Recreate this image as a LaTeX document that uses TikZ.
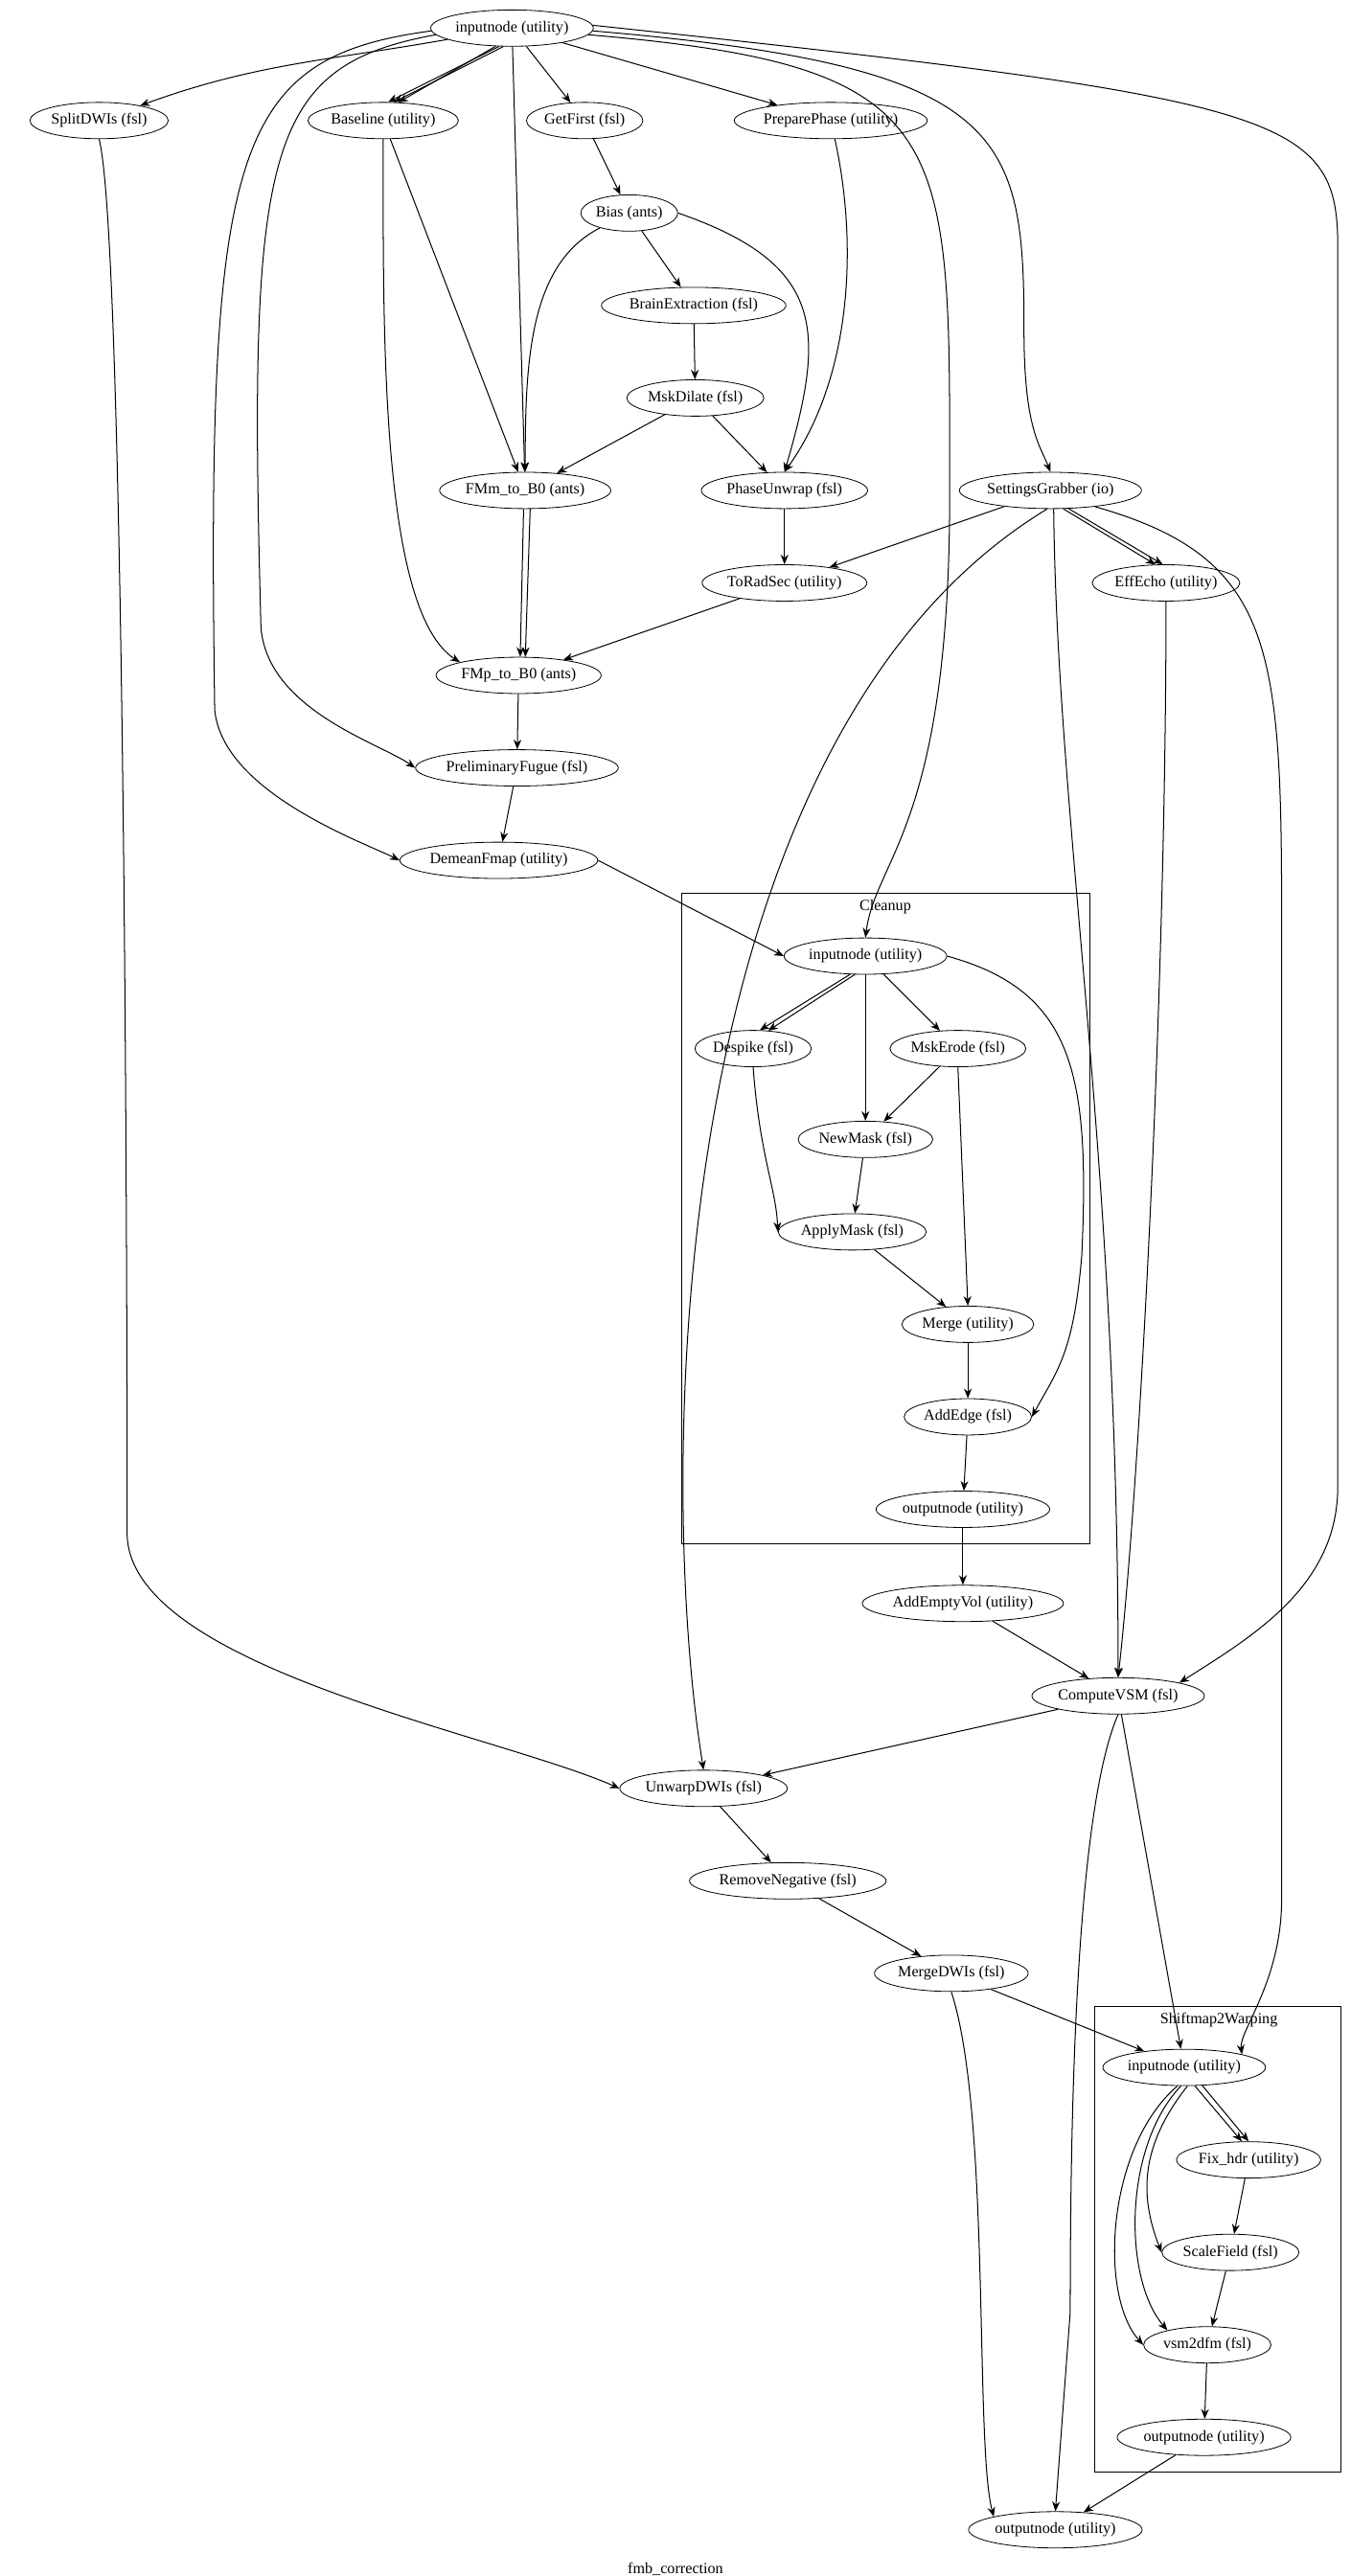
\documentclass[tikz,border=0pt]{standalone}
\usepackage{fontspec}
\setmainfont{Liberation Serif}
\usetikzlibrary{shapes.geometric,arrows.meta}
\begin{document}
\begin{tikzpicture}[x=0.03cm,y=-0.03cm,
  n/.style={ellipse,draw,inner sep=0.5pt,minimum height=0.66cm,font=\fontsize{8}{10}\selectfont},
  e/.style={-{Stealth[length=5pt,width=4pt]},line width=0.5pt},
  cl/.style={draw,line width=0.5pt}]
\useasboundingbox (0,0) rectangle (818,1560);
\draw[cl] (413,541) rectangle (660,935);
\node[font=\fontsize{8}{10}\selectfont] at (536,549) {Cleanup};
\draw[cl] (663,1215) rectangle (812,1497);
\node[font=\fontsize{8}{10}\selectfont] at (738,1223) {Shiftmap2Warping};
\node[n] (in) at (310,17) {inputnode (utility)};
\node[n] (split) at (60,73) {SplitDWIs (fsl)};
\node[n] (base) at (232,73) {Baseline (utility)};
\node[n] (gf) at (354,73) {GetFirst (fsl)};
\node[n] (pp) at (503,73) {PreparePhase (utility)};
\node[n] (bias) at (381,129) {Bias (ants)};
\node[n] (be) at (420,185) {BrainExtraction (fsl)};
\node[n] (md) at (421,241) {MskDilate (fsl)};
\node[n] (fmm) at (318,297) {FMm\_to\_B0 (ants)};
\node[n] (pu) at (475,297) {PhaseUnwrap (fsl)};
\node[n] (sg) at (636,297) {SettingsGrabber (io)};
\node[n] (trs) at (475,353) {ToRadSec (utility)};
\node[n] (ee) at (706,353) {EffEcho (utility)};
\node[n] (fmp) at (314,409) {FMp\_to\_B0 (ants)};
\node[n] (pf) at (313,465) {PreliminaryFugue (fsl)};
\node[n] (dm) at (302,521) {DemeanFmap (utility)};
\node[n] (cin) at (524,579) {inputnode (utility)};
\node[n] (ds) at (456,635) {Despike (fsl)};
\node[n] (me) at (580,635) {MskErode (fsl)};
\node[n] (nm) at (524,690) {NewMask (fsl)};
\node[n] (am) at (516,746) {ApplyMask (fsl)};
\node[n] (mg) at (586,802) {Merge (utility)};
\node[n] (ae) at (586,858) {AddEdge (fsl)};
\node[n] (cout) at (583,914) {outputnode (utility)};
\node[n] (aev) at (583,971) {AddEmptyVol (utility)};
\node[n] (vsm) at (677,1027) {ComputeVSM (fsl)};
\node[n] (uw) at (426,1083) {UnwarpDWIs (fsl)};
\node[n] (rn) at (477,1139) {RemoveNegative (fsl)};
\node[n] (mdw) at (576,1195) {MergeDWIs (fsl)};
\node[n] (sin) at (717,1252) {inputnode (utility)};
\node[n] (fh) at (756,1308) {Fix\_hdr (utility)};
\node[n] (sf) at (745,1364) {ScaleField (fsl)};
\node[n] (v2d) at (731,1420) {vsm2dfm (fsl)};
\node[n] (sout) at (729,1476) {outputnode (utility)};
\node[n] (out) at (639,1532) {outputnode (utility)};
\node[font=\fontsize{8}{10}\selectfont] (lab) at (409,1556) {fmb\_correction};
% top edges
\draw[e] (in) to[out=190,in=20] (split);
\draw[e] (in.235) -- (base.75);
\draw[e] (in.245) -- (base.60);
\draw[e] (in.228) -- (base.50);
\draw[e] (in) -- (gf);
\draw[e] (in) -- (pp);
\draw[e] (in) -- (fmm);
\draw[e] (in.185) .. controls (160,40) and (150,90) .. (158,380) .. controls (162,430) and (230,450) .. (pf.west);
\draw[e] (in.182) .. controls (140,35) and (125,90) .. (130,430) .. controls (135,480) and (220,510) .. (dm.west);
\draw[e] (in.355) .. controls (580,40) and (575,80) .. (575,300) .. controls (575,500) and (530,520) .. (cin.north);
\draw[e] (in.358) .. controls (610,40) and (620,80) .. (620,200) .. controls (620,260) and (630,270) .. (sg.north);
\draw[e] (in.2) .. controls (780,60) and (810,70) .. (810,150) -- (810,900) .. controls (810,960) and (760,990) .. (vsm.north east);
\draw[e] (gf) -- (bias);
\draw[e] (bias) -- (be);
\draw[e] (bias) .. controls (320,160) and (318,220) .. (fmm.north);
\draw[e] (bias.east) .. controls (500,160) and (500,200) .. (pu.north);
\draw[e] (be) -- (md);
\draw[e] (md) -- (fmm);
\draw[e] (md) -- (pu);
\draw[e] (pp) .. controls (520,150) and (515,230) .. (pu.north);
\draw[e] (base) -- (fmm);
\draw[e] (base.south) .. controls (232,200) and (230,370) .. (fmp.north west);
\draw[e] (fmm.265) -- (fmp.85);
\draw[e] (fmm.285) -- (fmp.70);
\draw[e] (pu) -- (trs);
\draw[e] (trs) -- (fmp);
\draw[e] (sg) -- (trs);
\draw[e] (sg.-55) -- (ee.120);
\draw[e] (sg.-45) -- (ee.100);
\draw[e] (sg.-100) .. controls (400,450) and (398,900) .. (uw.north);
\draw[e] (sg.-80) .. controls (640,500) and (677,700) .. (vsm.north);
\draw[e] (sg.-20) .. controls (780,340) and (776,400) .. (776,600) -- (776,1150) .. controls (776,1200) and (750,1230) .. (sin.north east);
\draw[e] (ee) .. controls (706,600) and (690,900) .. (vsm.north);
\draw[e] (fmp) -- (pf);
\draw[e] (pf) -- (dm);
\draw[e] (dm.east) -- (cin.west);
% cleanup
\draw[e] (cin.230) -- (ds.70);
\draw[e] (cin.240) -- (ds.50);
\draw[e] (cin) -- (nm);
\draw[e] (cin) -- (me);
\draw[e] (cin.east) .. controls (650,600) and (660,650) .. (655,760) .. controls (650,820) and (640,830) .. (ae.east);
\draw[e] (ds.south) .. controls (460,700) and (470,720) .. (am.west);
\draw[e] (me) -- (nm);
\draw[e] (me.south) -- (mg.north);
\draw[e] (nm) -- (am);
\draw[e] (am) -- (mg);
\draw[e] (mg) -- (ae);
\draw[e] (ae) -- (cout);
\draw[e] (cout) -- (aev);
\draw[e] (aev) -- (vsm);
\draw[e] (split.south) .. controls (77,150) and (77,900) .. (77,930) .. controls (80,1010) and (300,1050) .. (uw.west);
\draw[e] (vsm) -- (uw);
\draw[e] (vsm.south) .. controls (650,1100) and (648,1300) .. (648,1400) -- (out.north);
\draw[e] (vsm) -- (sin);
\draw[e] (uw) -- (rn);
\draw[e] (rn) -- (mdw);
\draw[e] (mdw) -- (sin);
\draw[e] (mdw.south) .. controls (600,1280) and (590,1480) .. (out.north west);
% shiftmap
\draw[e] (sin.-60) -- (fh.110);
\draw[e] (sin.-45) -- (fh.90);
\draw[e] (sin.-80) .. controls (690,1300) and (690,1330) .. (sf.west);
\draw[e] (sin.-110) .. controls (670,1300) and (665,1390) .. (v2d.west);
\draw[e] (sin.-100) .. controls (680,1300) and (680,1380) .. (v2d.160);
\draw[e] (fh) -- (sf);
\draw[e] (sf) -- (v2d);
\draw[e] (v2d) -- (sout);
\draw[e] (sout) -- (out);
\end{tikzpicture}
\end{document}
